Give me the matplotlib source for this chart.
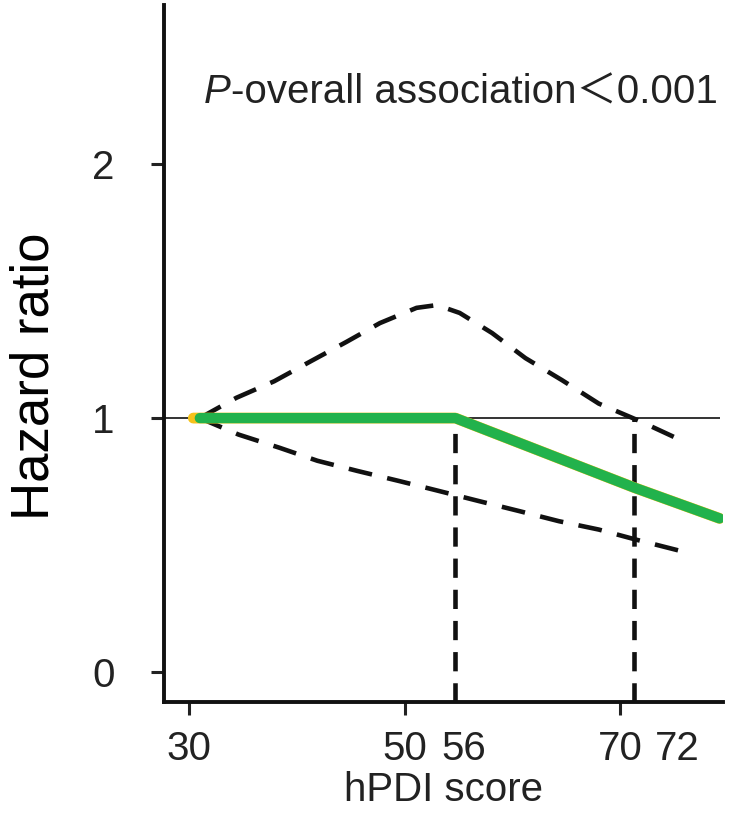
import matplotlib
matplotlib.use("Agg")
import matplotlib.pyplot as plt

plt.rcParams['font.family'] = ['Liberation Sans', 'Noto Sans CJK SC', 'DejaVu Sans']

# ---- data ----
x_ticks = [30, 50, 70]
x_tick_labels = ["30", "50", "70"]
y_ticks = [0, 1, 2]
y_tick_labels = ["0", "1", "2"]

cut_x = [54.7, 71.3]            # vertical dashed reference lines
cut_labels = ["56", "72"]
cut_label_x = [55.5, 75.3]

hr_x = [31.0, 54.7, 71.3, 79.2]
hr_y = [1.0, 1.0, 0.726, 0.605]
hr_under_x = [30.4, 54.7, 71.3, 79.2]
hr_under_y = [1.0, 1.0, 0.726, 0.605]

upper_x = [31, 34.4, 37.9, 41.3, 44.6, 47.7, 51.1, 53.0, 55.1, 58.1, 61.2, 64.6, 68.0, 71.7, 74.7, 76.0]
upper_y = [1.0, 1.08, 1.145, 1.224, 1.30, 1.374, 1.434, 1.445, 1.414, 1.335, 1.236, 1.149, 1.057, 0.99, 0.931, 0.905]

lower_x = [31, 34.6, 38.4, 41.9, 45.6, 49.5, 52.8, 56.9, 60.6, 64.3, 68.0, 71.4, 76.3]
lower_y = [1.0, 0.935, 0.883, 0.832, 0.792, 0.752, 0.717, 0.673, 0.634, 0.594, 0.561, 0.522, 0.469]

x_lim = (27.68, 79.49)
y_lim = (-0.118, 2.626)
ref_end = 79.2

fig = plt.figure(figsize=(7.42, 8.16), dpi=100)
ax = fig.add_axes([0.221, 0.1397, 0.753, 0.854])
ax.set_xlim(*x_lim)
ax.set_ylim(*y_lim)

# reference line at HR = 1
ax.hlines(1.0, x_lim[0], ref_end, color='#333333', lw=1.4, zorder=2)

# confidence bands
dash = (0, (5.2, 3.4))
ax.plot(upper_x, upper_y, color='#111111', lw=3.3, linestyle=dash, zorder=3)
ax.plot(lower_x, lower_y, color='#111111', lw=3.3, linestyle=dash, zorder=3)

# vertical cut lines
ax.vlines(cut_x, y_lim[0], 1.0, colors='#111111', lw=3.3, linestyles=[(0, (4.2, 2.6))], zorder=3)

# hazard ratio curve
ax.plot(hr_under_x, hr_under_y, color='#f5c21b', lw=7.8, solid_capstyle='round', zorder=4)
ax.plot(hr_x, hr_y, color='#22b24c', lw=7.4, solid_capstyle='round', zorder=5)

# spines
for s in ['top', 'right']:
    ax.spines[s].set_visible(False)
for s in ['left', 'bottom']:
    ax.spines[s].set_linewidth(2.8)
    ax.spines[s].set_color('#111111')

ax.set_xticks(x_ticks)
ax.set_xticklabels(x_tick_labels)
ax.set_yticks(y_ticks)
ax.set_yticklabels(y_tick_labels)
ax.set_xticks(cut_x, minor=True)
ax.tick_params(axis='both', which='major', direction='out', length=9.4, width=2.2,
               labelsize=29, colors='#222222')
ax.tick_params(axis='x', which='major', pad=11)
ax.tick_params(axis='y', which='major', pad=26)
ax.tick_params(axis='x', which='minor', direction='in', length=9.4, width=2.2, colors='#222222')

for lx, lab in zip(cut_label_x, cut_labels):
    ax.annotate(lab, xy=(lx, 0), xycoords=('data', 'axes fraction'),
                xytext=(0, -(9.4 + 11)), textcoords='offset points',
                ha='center', va='top', fontsize=29, color='#222222')

ax.set_xlabel('hPDI score', fontsize=29, color='#222222', labelpad=2)

fig.text(0.046, 1 - 376 / 816, 'Hazard ratio', rotation=90, ha='center', va='center',
         fontsize=38, color='black')

t1 = ax.text(31.4, 2.24, 'P', style='italic', fontsize=29, color='#222222', va='baseline')
ax.annotate('-overall association\uff1c0.001', xy=(1, 0), xycoords=t1,
            ha='left', va='bottom', fontsize=29, color='#222222')

fig.savefig('out.png', dpi=100)
